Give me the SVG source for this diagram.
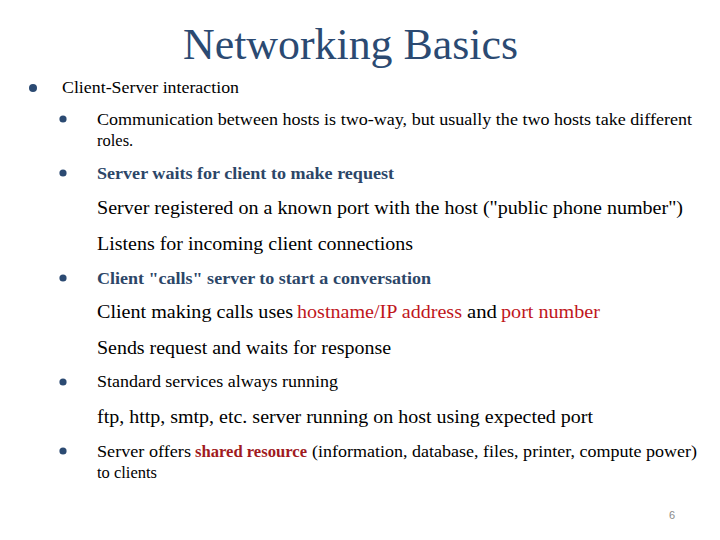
<svg xmlns="http://www.w3.org/2000/svg" width="720" height="540" viewBox="0 0 720 540">
<style>
.t{font-family:'Liberation Serif',Tinos,'Times New Roman',Times,'DejaVu Serif','Noto Serif',serif;fill:#000}
.b{font-weight:bold;fill:#2c4668}
.r{fill:#c0161c}
.rb{fill:#a01a1e;font-weight:bold}
.dot{fill:#2b4a72}
.ttl{font-family:'Liberation Serif',Tinos,'Times New Roman',Times,'DejaVu Serif','Noto Serif',serif;fill:#2b4a72}
</style>
<rect width="720" height="540" fill="#fff"/>
<g id="title">
<text class="ttl" x="350.5" y="59" text-anchor="middle" font-size="44" textLength="335" lengthAdjust="spacingAndGlyphs">Networking Basics</text>
</g>
<g id="bullets">
<circle class="dot" cx="33" cy="88" r="4"/>
<circle class="dot" cx="63" cy="119" r="3.6"/>
<circle class="dot" cx="63" cy="173" r="3.6"/>
<circle class="dot" cx="63" cy="278" r="3.6"/>
<circle class="dot" cx="63" cy="382" r="3.6"/>
<circle class="dot" cx="63" cy="451" r="3.6"/>
</g>
<g id="text">
<text class="t" x="62" y="93" font-size="17.5" textLength="177" lengthAdjust="spacingAndGlyphs">Client-Server interaction</text>
<text class="t" x="97" y="125" font-size="16.5" textLength="595" lengthAdjust="spacingAndGlyphs">Communication between hosts is two-way, but usually the two hosts take different</text>
<text class="t" x="97" y="146" font-size="16.5">roles.</text>
<text class="t b" x="97" y="179" font-size="16" textLength="297" lengthAdjust="spacingAndGlyphs">Server waits for client to make request</text>
<text class="t" x="97" y="214" font-size="18.5" textLength="586" lengthAdjust="spacingAndGlyphs">Server registered on a known port with the host ("public phone number")</text>
<text class="t" x="97" y="250" font-size="18.5" textLength="316" lengthAdjust="spacingAndGlyphs">Listens for incoming client connections</text>
<text class="t b" x="97" y="284" font-size="16" textLength="334" lengthAdjust="spacingAndGlyphs">Client "calls" server to start a conversation</text>
<text class="t" x="97" y="318" font-size="18.5"><tspan x="97" textLength="196" lengthAdjust="spacingAndGlyphs">Client making calls uses</tspan><tspan class="r" x="297" textLength="165" lengthAdjust="spacingAndGlyphs">hostname/IP address</tspan><tspan x="467" textLength="30" lengthAdjust="spacingAndGlyphs">and</tspan><tspan class="r" x="501" textLength="99" lengthAdjust="spacingAndGlyphs">port number</tspan></text>
<text class="t" x="97" y="354" font-size="18.5" textLength="294" lengthAdjust="spacingAndGlyphs">Sends request and waits for response</text>
<text class="t" x="97" y="387" font-size="16" textLength="241" lengthAdjust="spacingAndGlyphs">Standard services always running</text>
<text class="t" x="97" y="423" font-size="18.5" textLength="496" lengthAdjust="spacingAndGlyphs">ftp, http, smtp, etc. server running on host using expected port</text>
<text class="t" x="97" y="457" font-size="16.5"><tspan x="97" textLength="94" lengthAdjust="spacingAndGlyphs">Server offers</tspan><tspan class="rb" x="195" textLength="112" lengthAdjust="spacingAndGlyphs">shared resource</tspan><tspan x="312" textLength="385" lengthAdjust="spacingAndGlyphs">(information, database, files, printer, compute power)</tspan></text>
<text class="t" x="97" y="478" font-size="16.5">to clients</text>
<text x="672" y="519" font-family="Liberation Sans, Arial, sans-serif" font-size="11" fill="#8a8a8a" text-anchor="middle">6</text>
</g>
</svg>
